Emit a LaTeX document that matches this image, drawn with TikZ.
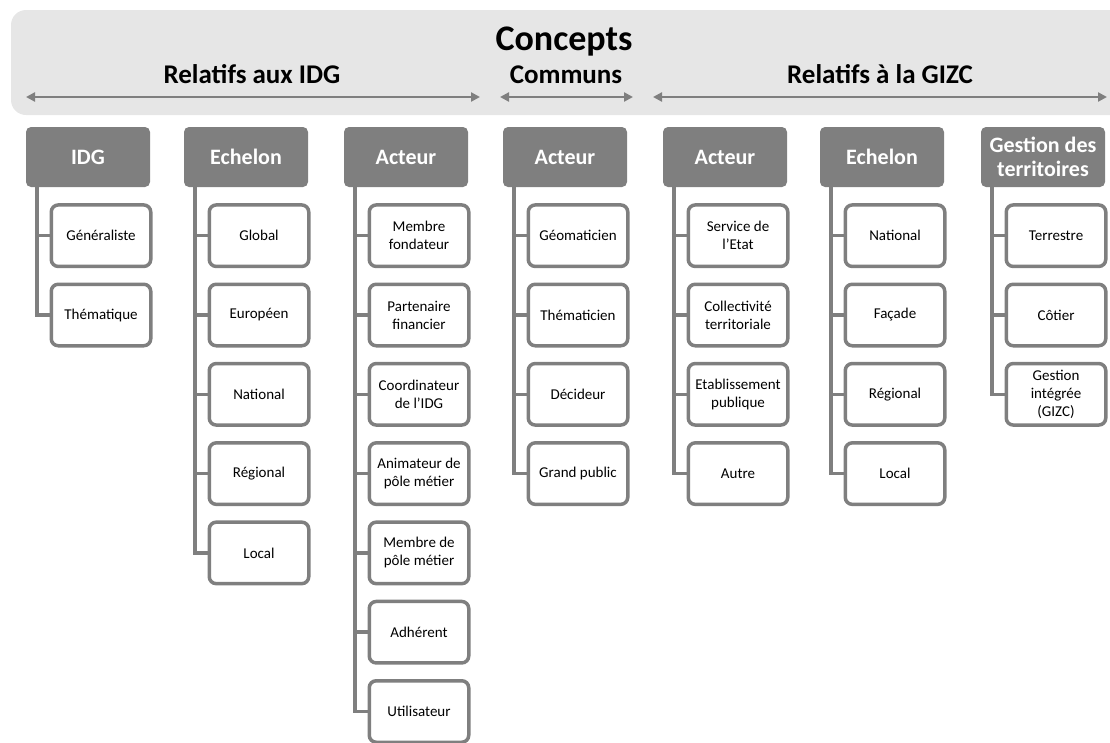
\documentclass[tikz,border=0pt]{standalone}
\usepackage{fontspec}
\setmainfont{Carlito}
\usetikzlibrary{positioning,arrows.meta}

\definecolor{boxgray}{HTML}{7F7F7F}
\definecolor{bandgray}{HTML}{E6E6E6}

\begin{document}
\begin{tikzpicture}[x=1pt, y=-1pt, node distance=14.3pt,
    head/.style={fill=boxgray, text=white, rounded corners=5pt, minimum width=124pt,
      minimum height=60pt, inner sep=2pt, align=center, font=\fontsize{22}{24}\selectfont\bfseries},
    item/.style={draw=boxgray, line width=3.5pt, fill=white, rounded corners=7pt, minimum width=99.5pt,
      minimum height=61.5pt, inner sep=2pt, align=center, font=\fontsize{15}{18}\selectfont},
    tree/.style={draw=boxgray, line width=3.5pt, to path={|- (\tikztotarget)}},
    span/.style={draw=boxgray, line width=2.7pt,
      {Triangle[length=9pt,width=9pt]}-{Triangle[length=9pt,width=9pt]}},
    title/.style={anchor=base, font=\fontsize{27}{30}\selectfont\bfseries}]
    \useasboundingbox (0,0) rectangle (1110,742);

    % banner
    \fill [bandgray, rounded corners=15pt] (11,10) rectangle (1140,115);
    \node [title, font=\fontsize{36}{40}\selectfont\bfseries] (concepts) at (564,50) {Concepts};
    \node [title] (relidg) at (252,83) {Relatifs aux IDG};
    \node [title] (communs) at (566,83) {Communs};
    \node [title] (relgizc) at (880,83) {Relatifs à la GIZC};
    \coordinate (idgL) at (26,97);
    \coordinate (idgR) at (480,97);
    \coordinate (comL) at (500,97);
    \coordinate (comR) at (633,97);
    \coordinate (gizcL) at (653,97);
    \coordinate (gizcR) at (1107,97);
    \draw [span] (idgL) -- (idgR);
    \draw [span] (comL) -- (comR);
    \draw [span] (gizcL) -- (gizcR);

    % IDG
    \node [head] (idg) at (88,157) {IDG};
    \node [item] (idg1) [below=16pt of idg, xshift=13pt] {Généraliste};
    \node [item] (idg2) [below=of idg1] {Thématique};

    % Echelon (IDG)
    \node [head] (ech) at (246,157) {Echelon};
    \node [item] (ech1) [below=16pt of ech, xshift=13pt] {Global};
    \node [item] (ech2) [below=of ech1] {Européen};
    \node [item] (ech3) [below=of ech2] {National};
    \node [item] (ech4) [below=of ech3] {Régional};
    \node [item] (ech5) [below=of ech4] {Local};

    % Acteur (IDG)
    \node [head] (act) at (406,157) {Acteur};
    \node [item] (act1) [below=16pt of act, xshift=13pt] {Membre\\fondateur};
    \node [item] (act2) [below=of act1] {Partenaire\\financier};
    \node [item] (act3) [below=of act2] {Coordinateur\\de l’IDG};
    \node [item] (act4) [below=of act3] {Animateur de\\pôle métier};
    \node [item] (act5) [below=of act4] {Membre de\\pôle métier};
    \node [item] (act6) [below=of act5] {Adhérent};
    \node [item] (act7) [below=of act6] {Utilisateur};

    % Acteur (communs)
    \node [head] (com) at (565,157) {Acteur};
    \node [item] (com1) [below=16pt of com, xshift=13pt] {Géomaticien};
    \node [item] (com2) [below=of com1] {Thématicien};
    \node [item] (com3) [below=of com2] {Décideur};
    \node [item] (com4) [below=of com3] {Grand public};

    % Acteur (GIZC)
    \node [head] (gact) at (725,157) {Acteur};
    \node [item] (gact1) [below=16pt of gact, xshift=13pt] {Service de\\l’Etat};
    \node [item] (gact2) [below=of gact1] {Collectivité\\territoriale};
    \node [item] (gact3) [below=of gact2] {Etablissement\\publique};
    \node [item] (gact4) [below=of gact3] {Autre};

    % Echelon (GIZC)
    \node [head] (gech) at (882,157) {Echelon};
    \node [item] (gech1) [below=16pt of gech, xshift=13pt] {National};
    \node [item] (gech2) [below=of gech1] {Façade};
    \node [item] (gech3) [below=of gech2] {Régional};
    \node [item] (gech4) [below=of gech3] {Local};

    % Gestion des territoires
    \node [head] (ges) at (1043,157) {Gestion des\\territoires};
    \node [item] (ges1) [below=16pt of ges, xshift=13pt] {Terrestre};
    \node [item] (ges2) [below=of ges1] {Côtier};
    \node [item] (ges3) [below=of ges2] {Gestion\\intégrée\\(GIZC)};

    \path [tree] ([xshift=11pt]idg.south west)
      edge (idg1.west) edge (idg2.west);
    \path [tree] ([xshift=11pt]ech.south west)
      edge (ech1.west) edge (ech2.west) edge (ech3.west) edge (ech4.west) edge (ech5.west);
    \path [tree] ([xshift=11pt]act.south west)
      edge (act1.west) edge (act2.west) edge (act3.west) edge (act4.west)
      edge (act5.west) edge (act6.west) edge (act7.west);
    \path [tree] ([xshift=11pt]com.south west)
      edge (com1.west) edge (com2.west) edge (com3.west) edge (com4.west);
    \path [tree] ([xshift=11pt]gact.south west)
      edge (gact1.west) edge (gact2.west) edge (gact3.west) edge (gact4.west);
    \path [tree] ([xshift=11pt]gech.south west)
      edge (gech1.west) edge (gech2.west) edge (gech3.west) edge (gech4.west);
    \path [tree] ([xshift=11pt]ges.south west)
      edge (ges1.west) edge (ges2.west) edge (ges3.west);
  \end{tikzpicture}
\end{document}
